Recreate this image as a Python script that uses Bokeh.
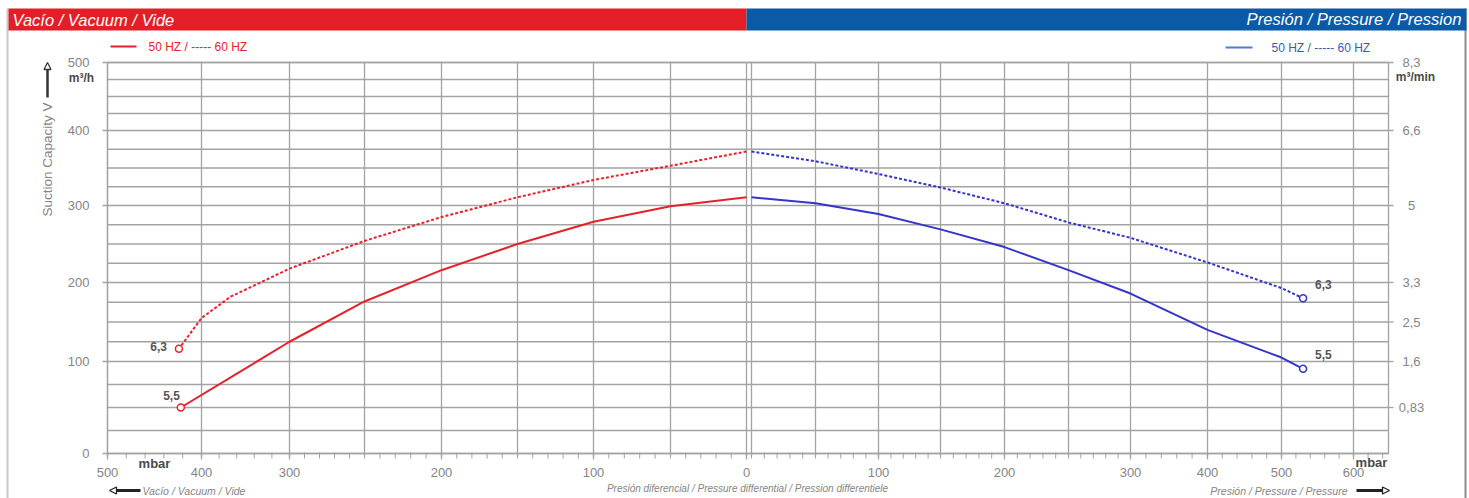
import numpy as np
from bokeh.plotting import figure
from bokeh.models import Range1d, Arrow, NormalHead
from bokeh.embed import file_html
from bokeh.resources import INLINE
from bokeh.core.properties import value

# ---------------- data ----------------
# vacuum side (mbar below atmosphere) -> suction capacity m3/h
VAC_MBAR_50 = [0, 50, 100, 150, 200, 250, 300, 356, 422]
VAC_FLOW_50 = [311, 299, 279, 250, 216, 176, 125, 89, 50]
VAC_MBAR_60 = [0, 50, 100, 150, 200, 250, 300, 367, 400, 424]
VAC_FLOW_60 = [372, 353, 334, 311, 285, 254, 218, 182, 155, 116]
# pressure side (mbar over atmosphere) -> capacity m3/h
PRES_MBAR_50 = [0, 50, 100, 150, 200, 250, 300, 400, 500, 530]
PRES_FLOW_50 = [311, 303, 289, 269, 246, 216, 186, 140, 105, 92]
PRES_MBAR_60 = [0, 50, 100, 150, 200, 250, 300, 400, 500, 530]
PRES_FLOW_60 = [372, 359, 342, 324, 303, 278, 258, 226, 193, 180]
MOTOR_KW = ["5,5", "6,3"]  # 50 Hz, 60 Hz end labels

# tick labels
X_VAC_TICKS = [500, 400, 300, 200, 100, 0]
X_PRES_TICKS = [100, 200, 300, 400, 500, 600]
Y_TICKS = [0, 100, 200, 300, 400, 500]
Y_RIGHT_TICKS = [500, 400, 300, 200, 150, 100, 50]
Y_RIGHT_LABELS = ["8,3", "6,6", "5", "3,3", "2,5", "1,6", "0,83"]
X_VAC_GRID = [0, 50, 100, 150, 200, 250, 300, 400, 500]
X_PRES_GRID = [0, 50, 100, 150, 200, 250, 300, 400, 500, 600]
Y_GRID_STEP = 25

# ---------------- the chart's own non-linear scales ----------------
XV_VAL = [0, 50, 100, 150, 200, 250, 300, 400, 500]
XV_POS = [639, 563, 486, 410, 334, 257, 182, 94, 0]
XP_VAL = [0, 50, 100, 150, 200, 250, 300, 400, 500, 600, 648]
XP_POS = [644, 708, 771, 833, 897, 961, 1023, 1100, 1174, 1246, 1281]
Y_VAL = [0, 100, 200, 300, 400, 500]
Y_POS = [0, 92, 171, 248, 323, 391]
X_END = 1281
Y_END = 391


def xv(v):
    return np.interp(v, XV_VAL, XV_POS)


def xp(v):
    return np.interp(v, XP_VAL, XP_POS)


def ys(v):
    return np.interp(v, Y_VAL, Y_POS)


RED = "#e5222b"
BLUE = "#3535c9"
HDR_RED = "#e41e26"
HDR_BLUE = "#0a5aa8"
GRID = "#a3a3a3"
LBL = "#858585"
DARK = "#4a4a4a"
FONT = "Liberation Sans"

p = figure(width=1469, height=498, x_range=Range1d(-107, 1362), y_range=Range1d(-45, 453),
           output_backend="svg", toolbar_location=None, min_border=0,
           x_axis_location=None, y_axis_location=None)
p.outline_line_color = None
p.grid.visible = False
p.background_fill_color = "white"


def txt(x, y, t, size="12px", color=LBL, align="center", style="normal", **kw):
    p.text(x=np.atleast_1d(x), y=np.atleast_1d(y), text=list(np.atleast_1d(t)),
           text_font=value(FONT), text_font_size=size, text_color=color,
           text_align=align, text_baseline="middle", text_font_style=style, **kw)


# ---------------- outer box & header ----------------
p.segment(x0=[-100], x1=[-100], y0=[445], y1=[-45], line_color="#c8c8c8", line_width=2)
p.segment(x0=[1358], x1=[1358], y0=[445], y1=[-45], line_color="#8c8c8c", line_width=2)
p.quad(left=[-99, 639], right=[639, 1359], bottom=[423, 423], top=[445, 445],
       color=[HDR_RED, HDR_BLUE], line_color=None)
txt(-95, 434, "Vacío / Vacuum / Vide", size="16.5px", color="white", align="left", style="italic")
txt(1354, 434, "Presión / Pressure / Pression", size="16.6px", color="white", align="right",
    style="italic")

# legends
p.line([3, 29], [407, 407], line_color=RED, line_width=2)
txt(41, 407, "50 HZ  /  ----- 60 HZ", size="12px", color=RED, align="left")
p.line([1118, 1145], [406, 406], line_color="#4a7fd0", line_width=2)
txt(1164, 406, "50 HZ  /  ----- 60 HZ", size="12px", color="#2f5fae", align="left")

# ---------------- grid & frame ----------------
xg = np.concatenate([xv(X_VAC_GRID), xp(X_PRES_GRID)])
yg = ys(np.arange(0, 501, Y_GRID_STEP))
p.segment(x0=xg, x1=xg, y0=np.full(len(xg), -3), y1=np.full(len(xg), Y_END),
          line_color=GRID, line_width=1.3)
p.segment(x0=np.zeros(len(yg)), x1=np.full(len(yg), X_END), y0=yg, y1=yg,
          line_color=GRID, line_width=1.3)
p.quad(left=[0], right=[X_END], bottom=[0], top=[Y_END], fill_color=None,
       line_color=GRID, line_width=1.3)

# bottom axis ticks & labels
xmaj = np.concatenate([xv(X_VAC_TICKS), xp(X_PRES_TICKS)])
xlab = [str(v) for v in X_VAC_TICKS] + [str(v) for v in X_PRES_TICKS]
xminor = np.concatenate([xv(list(range(0, 300, 10)) + list(range(300, 501, 20))),
                         xp(list(range(0, 300, 10)) + list(range(300, 641, 20)))])
p.segment(x0=xminor, x1=xminor, y0=np.full(len(xminor), 1), y1=np.full(len(xminor), -5),
          line_color=GRID, line_width=1)
p.segment(x0=xmaj, x1=xmaj, y0=np.zeros(len(xmaj)), y1=np.full(len(xmaj), -6),
          line_color=GRID, line_width=1.3)
txt(xmaj, np.full(len(xmaj), -19), xlab, size="13px")

# left axis
ymaj = ys(Y_TICKS)
p.segment(x0=np.zeros(len(ymaj)), x1=np.full(len(ymaj), -5), y0=ymaj, y1=ymaj,
          line_color=GRID, line_width=1.3)
txt(np.full(len(ymaj), -18), ymaj, [str(v) for v in Y_TICKS], size="13px", align="right")

# right axis (m3/min)
yr = ys(Y_RIGHT_TICKS)
p.segment(x0=np.full(len(yr), X_END), x1=np.full(len(yr), X_END + 5), y0=yr, y1=yr,
          line_color=GRID, line_width=1.3)
txt(np.full(len(yr), 1304), yr, Y_RIGHT_LABELS, size="13px")

# unit / axis texts
txt(-26, 376, "m³/h", size="12px", color=DARK, style="bold")
txt(1308, 377, "m³/min", size="12px", color=DARK, style="bold")
txt(47, -10, "mbar", size="13px", color=DARK, style="bold")
txt(1264, -9, "mbar", size="13px", color=DARK, style="bold")
txt(-60, 294, "Suction Capacity V", size="13.5px", angle=np.pi / 2)
txt(35, -37, "Vacío / Vacuum / Vide", size="10.5px", align="left", style="italic")
txt(640, -35, "Presión diferencial / Pressure differential / Pression differentiele",
    size="10px", style="italic")
txt(1240, -37, "Presión / Pressure / Pressure", size="10.5px", align="right", style="italic")

# arrows
p.add_layout(Arrow(x_start=-60, y_start=356, x_end=-60, y_end=391, line_width=2.5,
                   line_color="#333333",
                   end=NormalHead(size=7, fill_color="white", line_color="#333333",
                                  line_width=1.3)))
p.add_layout(Arrow(x_start=33, y_start=-37, x_end=2, y_end=-37, line_width=3,
                   line_color="#222222",
                   end=NormalHead(size=7, fill_color="white", line_color="#222222",
                                  line_width=1.3)))
p.add_layout(Arrow(x_start=1249, y_start=-37, x_end=1282, y_end=-37, line_width=3,
                   line_color="#222222",
                   end=NormalHead(size=7, fill_color="white", line_color="#222222",
                                  line_width=1.3)))

# ---------------- curves ----------------
p.line(xv(VAC_MBAR_50), ys(VAC_FLOW_50), line_color=RED, line_width=2)
p.line(xv(VAC_MBAR_60), ys(VAC_FLOW_60), line_color=RED, line_width=2, line_dash="3 2")
p.line(xp(PRES_MBAR_50), ys(PRES_FLOW_50), line_color=BLUE, line_width=2)
p.line(xp(PRES_MBAR_60), ys(PRES_FLOW_60), line_color=BLUE, line_width=2, line_dash="3 2")

vx = xv([VAC_MBAR_50[-1], VAC_MBAR_60[-1]])
vy = ys([VAC_FLOW_50[-1], VAC_FLOW_60[-1]])
px_ = xp([PRES_MBAR_50[-1], PRES_MBAR_60[-1]])
py_ = ys([PRES_FLOW_50[-1], PRES_FLOW_60[-1]])
p.scatter(vx, vy, marker="circle", size=7, line_color=RED, line_width=1.5, fill_color="white")
p.scatter(px_, py_, marker="circle", size=7, line_color=BLUE, line_width=1.5, fill_color="white")

txt(vx[:1], vy[:1], MOTOR_KW[:1], size="12px", color="#555555", align="right", style="bold",
    x_offset=-1, y_offset=-12)
txt(vx[1:], vy[1:], MOTOR_KW[1:], size="12px", color="#555555", align="right", style="bold",
    x_offset=-12, y_offset=-2)
txt(px_, py_, MOTOR_KW, size="12px", color="#555555", align="left", style="bold",
    x_offset=12, y_offset=-14)

open("out.html", "w").write(file_html(p, INLINE))
